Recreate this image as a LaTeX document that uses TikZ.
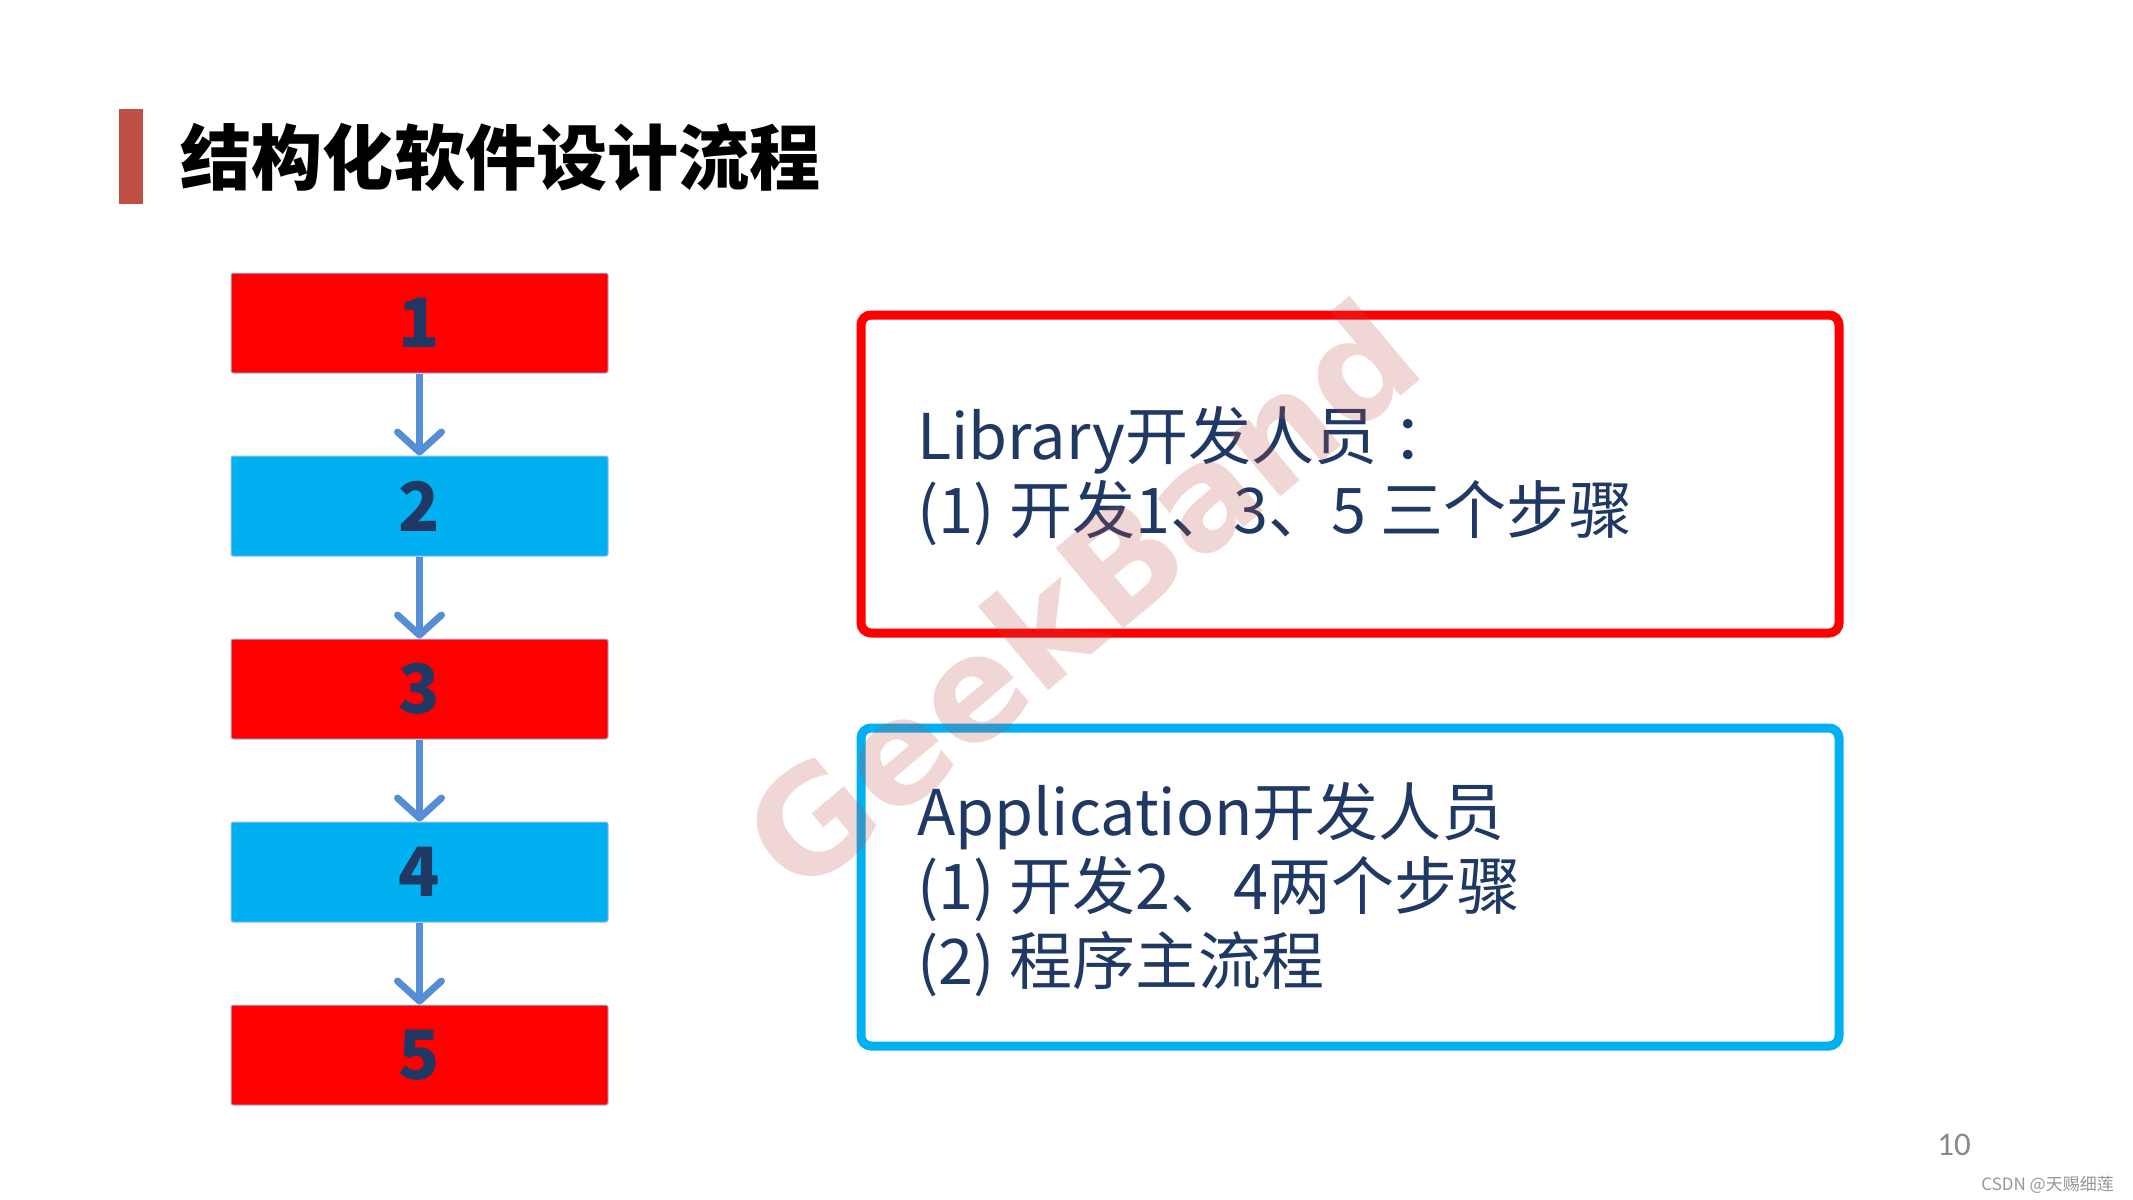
\documentclass[tikz,border=0pt]{standalone}
\usepackage{fontspec}
\setmainfont{Noto Sans CJK SC}
\newfontfamily\cjk{Noto Sans CJK SC}
\newfontfamily\wmfont{DejaVu Sans}
\newfontfamily\pgfont{Carlito}
\usetikzlibrary{arrows.meta}
\definecolor{navy}{RGB}{31,56,100}
\definecolor{barcol}{RGB}{192,80,70}
\definecolor{stepred}{RGB}{255,0,0}
\definecolor{stepblue}{RGB}{0,176,240}
\definecolor{arrowcol}{RGB}{85,142,213}
\definecolor{edgecol}{RGB}{150,190,235}
\definecolor{wmcol}{RGB}{192,80,77}
\definecolor{pagecol}{RGB}{137,137,137}
\definecolor{csdncol}{RGB}{150,150,150}
\tikzset{
  stepbox/.style={draw=edgecol, line width=0.5pt, rounded corners=1pt,
    minimum width=188.5pt, minimum height=50pt, inner sep=0pt,
    text=navy, font=\cjk\bfseries\fontsize{34pt}{40pt}\selectfont},
  redstep/.style={stepbox, fill=stepred},
  bluestep/.style={stepbox, fill=stepblue},
  flowarrow/.style={draw=arrowcol, line width=3.5pt,
    -{Straight Barb[length=10pt, width=22pt, line cap=round, line join=round]}},
  framebox/.style={line width=4.5pt, rounded corners=5pt, fill=white,
    minimum width=489pt, minimum height=159pt, inner sep=0pt},
  boxtext/.style={anchor=base west, inner sep=0pt, text=navy,
    font=\cjk\fontsize{31.5pt}{37pt}\selectfont},
}
\begin{document}
\begin{tikzpicture}[x=0.5pt,y=-0.5pt]
\useasboundingbox (0,0) rectangle (2133,1200);
\fill[white] (0,0) rectangle (2133,1200);

% title
\fill[barcol] (119,109) rectangle (143,204);
\node[anchor=west, inner sep=0pt, font=\cjk\bfseries\fontsize{35.6pt}{42pt}\selectfont]
  (title) at (180,157) {结构化软件设计流程};

% steps
\node[redstep]  (b1) at (419.5,323)  {1};
\node[bluestep] (b2) at (419.5,506)  {2};
\node[redstep]  (b3) at (419.5,689)  {3};
\node[bluestep] (b4) at (419.5,872)  {4};
\node[redstep]  (b5) at (419.5,1055) {5};
\draw[flowarrow] (b1.south) -- (b2.north);
\draw[flowarrow] (b2.south) -- (b3.north);
\draw[flowarrow] (b3.south) -- (b4.north);
\draw[flowarrow] (b4.south) -- (b5.north);

% frames
\node[framebox, draw=stepred]  (lib) at (1350,474) {};
\node[framebox, draw=stepblue] (app) at (1350,887) {};

\node[boxtext] (lib1) at (917,459) {Library开发人员\kern0.25em：};
\node[boxtext] (lib2) at (917,533) {(1) 开发1、3、5 三个步骤};

\node[boxtext] (app1) at (917,835) {Application开发人员};
\node[boxtext] (app2) at (917,909) {(1) 开发2、4两个步骤};
\node[boxtext] (app3) at (917,984) {(2) 程序主流程};

% watermark
\node[rotate=40, text=wmcol, opacity=0.23, inner sep=0pt,
  font=\wmfont\bfseries\fontsize{72pt}{86pt}\selectfont] (wm) at (1080,595) {GeekBand};

% footer
\node[anchor=base west, inner sep=0pt, text=pagecol, font=\pgfont\fontsize{16.5pt}{20pt}\selectfont]
  (page) at (1937,1155) {10};
\node[anchor=base west, inner sep=0pt, text=csdncol, font=\cjk\fontsize{8.5pt}{10pt}\selectfont]
  (csdn) at (1981,1190) {CSDN @天赐细莲};
\end{tikzpicture}
\end{document}
